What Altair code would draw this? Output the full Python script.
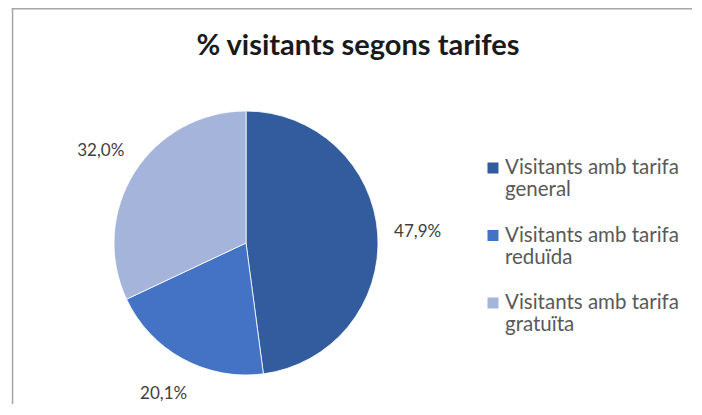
import altair as alt
import pandas as pd

categories = ["Visitants amb tarifa general",
              "Visitants amb tarifa reduïda",
              "Visitants amb tarifa gratuïta"]
percent = [47.9, 20.1, 32.0]
labels = ["47,9%", "20,1%", "32,0%"]
colors = ["#335C9F", "#4472C4", "#A5B4DA"]
chart_title = "% visitants segons tarifes"

df = pd.DataFrame({
    "cat": categories,
    "pct": percent,
    "lab": labels,
    "ord": list(range(len(categories))),
    "legend": [c.replace("tarifa ", "tarifa\n") for c in categories],
})

W, H = 684, 396
CX, CY = 238, 235
FONT = "Lato"

color = alt.Color("cat:N", scale=alt.Scale(domain=categories, range=colors), legend=None)
base = alt.Chart(df)

pie = base.mark_arc(radius=132, stroke="white", strokeWidth=0.8).encode(
    theta=alt.Theta("pct:Q", stack=True),
    color=color,
    order=alt.Order("ord:Q"),
    x=alt.value(CX), y=alt.value(CY),
)

pie_labels = base.mark_text(radius=172, font=FONT, fontSize=17, color="#404040").encode(
    theta=alt.Theta("pct:Q", stack=True),
    text="lab:N",
    order=alt.Order("ord:Q"),
    x=alt.value(CX), y=alt.value(CY),
)

ly = alt.Y("cat:N", scale=alt.Scale(domain=categories, range=[160, 295], padding=0), axis=None)

leg_sym = base.mark_square(size=121, opacity=1).encode(
    x=alt.value(485), y=ly, color=color,
)
leg_txt = base.mark_text(align="left", baseline="middle", lineBreak="\n",
                         lineHeight=22, font=FONT, fontSize=20.5,
                         color="#595959").encode(
    x=alt.value(497), y=ly, text="legend:N",
)

frame = pd.DataFrame({"k": [0]})
left_line = alt.Chart(frame).mark_rect(color="#A6A6A6").encode(
    x=alt.value(3.8), x2=alt.value(5.3), y=alt.value(0), y2=alt.value(H))
top_line = alt.Chart(frame).mark_rect(color="#A6A6A6").encode(
    x=alt.value(3.8), x2=alt.value(W), y=alt.value(0), y2=alt.value(1.5))

chart = alt.layer(left_line, top_line, pie, pie_labels, leg_sym, leg_txt).properties(
    width=W, height=H,
    padding=0,
    autosize=alt.AutoSizeParams(type="none"),
    background="white",
    title=alt.TitleParams(chart_title, font=FONT, fontSize=29, fontWeight="bold",
                          color="#1A1A1A", anchor="middle", dx=8, offset=-67,
                          baseline="middle"),
).configure_view(stroke=None)

chart.save("out.html", embed_options={"renderer": "svg", "actions": False})
